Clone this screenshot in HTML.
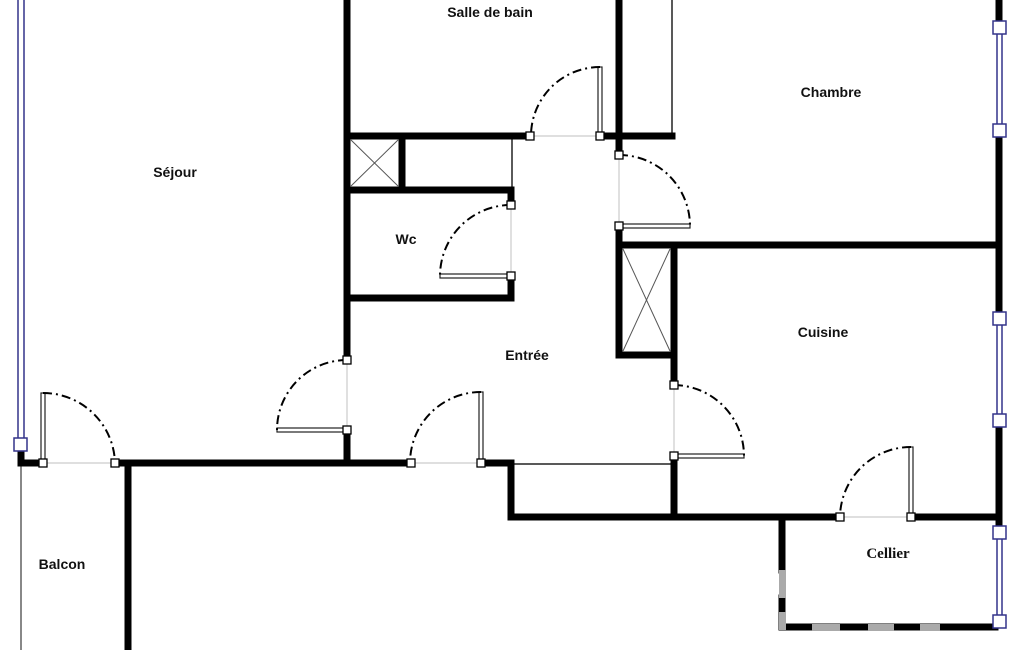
<!DOCTYPE html>
<html><head><meta charset="utf-8"><style>
html,body{margin:0;padding:0;background:#fff;}
svg{display:block}
text{font-family:"Liberation Sans",sans-serif;font-weight:bold;font-size:14px;fill:#111;text-anchor:middle}
</style></head><body>
<svg width="1025" height="650" viewBox="0 0 1025 650" xmlns="http://www.w3.org/2000/svg">
<rect width="1025" height="650" fill="#fff"/>
<!-- thin guide lines (door openings) -->
<g stroke="#ccc" stroke-width="1.2">
<line x1="347" y1="360" x2="347" y2="430"/>
<line x1="530" y1="136" x2="600" y2="136"/>
<line x1="619" y1="155" x2="619" y2="226"/>
<line x1="511" y1="205" x2="511" y2="276"/>
<line x1="674" y1="385" x2="674" y2="456"/>
<line x1="43" y1="463" x2="115" y2="463"/>
<line x1="411" y1="463" x2="481" y2="463"/>
<line x1="840" y1="517" x2="911" y2="517"/>
</g>
<!-- thin black lines -->
<g stroke="#222" stroke-width="1.5" fill="none">
<line x1="672" y1="0" x2="672" y2="136"/>
<line x1="512" y1="136" x2="512" y2="190"/>
<line x1="512" y1="464" x2="674" y2="464"/>
</g>
<line x1="21" y1="466" x2="21" y2="650" stroke="#888" stroke-width="2"/>
<!-- walls -->
<g stroke="#000" stroke-width="7" stroke-linecap="square" fill="none">
<line x1="347" y1="0" x2="347" y2="357"/>
<line x1="347" y1="136" x2="527" y2="136"/>
<line x1="603" y1="136" x2="672" y2="136"/>
<line x1="619" y1="0" x2="619" y2="152"/>
<line x1="402" y1="136" x2="402" y2="190"/>
<line x1="347" y1="190" x2="511" y2="190"/>
<line x1="511" y1="190" x2="511" y2="202"/>
<line x1="511" y1="279" x2="511" y2="298"/>
<line x1="347" y1="298" x2="511" y2="298"/>
<line x1="347" y1="433" x2="347" y2="463"/>
<line x1="21" y1="463" x2="40" y2="463"/>
<line x1="21" y1="452" x2="21" y2="463"/>
<line x1="118" y1="463" x2="408" y2="463"/>
<line x1="128" y1="463" x2="128" y2="650"/>
<line x1="484" y1="463" x2="511" y2="463"/>
<line x1="511" y1="463" x2="511" y2="517"/>
<line x1="511" y1="517" x2="837" y2="517"/>
<line x1="914" y1="517" x2="999" y2="517"/>
<line x1="674" y1="459" x2="674" y2="517"/>
<line x1="619" y1="229" x2="619" y2="355"/>
<line x1="619" y1="355" x2="674" y2="355"/>
<line x1="619" y1="245" x2="999" y2="245"/>
<line x1="674" y1="245" x2="674" y2="382"/>
<line x1="999" y1="0" x2="999" y2="21"/>
<line x1="999" y1="137" x2="999" y2="312"/>
<line x1="999" y1="427" x2="999" y2="526"/>
<line x1="782" y1="517" x2="782" y2="570"/>
<line x1="782" y1="598" x2="782" y2="627"/>
<line x1="782" y1="627" x2="995" y2="627"/>
</g>
<!-- grey patches on cellier wall -->
<g fill="#aaa">
<rect x="779" y="570" width="7" height="28"/>
<rect x="779" y="612" width="7" height="18"/>
<rect x="812" y="624" width="28" height="7"/>
<rect x="868" y="624" width="26" height="7"/>
<rect x="920" y="624" width="20" height="7"/>
</g>
<!-- closets X -->
<g stroke="#555" stroke-width="1">
<line x1="351" y1="140" x2="398" y2="186"/><line x1="398" y1="140" x2="351" y2="186"/>
<line x1="623" y1="249" x2="670" y2="351"/><line x1="670" y1="249" x2="623" y2="351"/>
</g>
<!-- windows -->
<g stroke="#33338a" stroke-width="1.5">
<line x1="18" y1="0" x2="18" y2="440"/><line x1="24" y1="0" x2="24" y2="440"/>
<line x1="997" y1="27" x2="997" y2="131"/><line x1="1002" y1="27" x2="1002" y2="131"/>
<line x1="997" y1="318" x2="997" y2="421"/><line x1="1002" y1="318" x2="1002" y2="421"/>
<line x1="997" y1="532" x2="997" y2="622"/><line x1="1002" y1="532" x2="1002" y2="622"/>
</g>
<g fill="#fff" stroke="#33338a" stroke-width="1.5">
<rect x="14" y="438" width="13" height="13"/>
<rect x="993" y="21" width="13" height="13"/>
<rect x="993" y="124" width="13" height="13"/>
<rect x="993" y="312" width="13" height="13"/>
<rect x="993" y="414" width="13" height="13"/>
<rect x="993" y="526" width="13" height="13"/>
<rect x="993" y="615" width="13" height="13"/>
</g>
<!-- door leaves -->
<g fill="#fff" stroke="#222" stroke-width="1.2">
<rect x="598" y="67" width="4" height="69"/>
<rect x="619" y="224" width="71" height="4"/>
<rect x="440" y="274" width="71" height="4"/>
<rect x="277" y="428" width="70" height="4"/>
<rect x="41" y="393" width="4" height="70"/>
<rect x="479" y="392" width="4" height="71"/>
<rect x="674" y="454" width="70" height="4"/>
<rect x="909" y="447" width="4" height="70"/>
</g>
<!-- swing arcs -->
<g stroke="#000" stroke-width="2" fill="none" stroke-dasharray="9,4,2,4">
<path d="M600 67 A69 69 0 0 0 531 136"/>
<path d="M619 155 A71 71 0 0 1 690 226"/>
<path d="M511 205 A71 71 0 0 0 440 276"/>
<path d="M347 360 A70 70 0 0 0 277 430"/>
<path d="M43 393 A72 72 0 0 1 115 463"/>
<path d="M481 392 A71 71 0 0 0 410 463"/>
<path d="M674 385 A71 71 0 0 1 744 456"/>
<path d="M911 447 A71 71 0 0 0 840 517"/>
</g>
<!-- hinge squares -->
<g fill="#fff" stroke="#000" stroke-width="1.3">
<rect x="526" y="132" width="8" height="8"/><rect x="596" y="132" width="8" height="8"/>
<rect x="615" y="151" width="8" height="8"/><rect x="615" y="222" width="8" height="8"/>
<rect x="507" y="201" width="8" height="8"/><rect x="507" y="272" width="8" height="8"/>
<rect x="343" y="356" width="8" height="8"/><rect x="343" y="426" width="8" height="8"/>
<rect x="39" y="459" width="8" height="8"/><rect x="111" y="459" width="8" height="8"/>
<rect x="407" y="459" width="8" height="8"/><rect x="477" y="459" width="8" height="8"/>
<rect x="670" y="381" width="8" height="8"/><rect x="670" y="452" width="8" height="8"/>
<rect x="836" y="513" width="8" height="8"/><rect x="907" y="513" width="8" height="8"/>
</g>
<!-- labels -->
<text x="490" y="17">Salle de bain</text>
<text x="831" y="97">Chambre</text>
<text x="175" y="177">Séjour</text>
<text x="406" y="244">Wc</text>
<text x="527" y="360">Entrée</text>
<text x="823" y="337">Cuisine</text>
<text x="62" y="569">Balcon</text>
<text x="888" y="558" style="font-family:'Liberation Serif',serif;font-size:15px">Cellier</text>
</svg>
</body></html>
